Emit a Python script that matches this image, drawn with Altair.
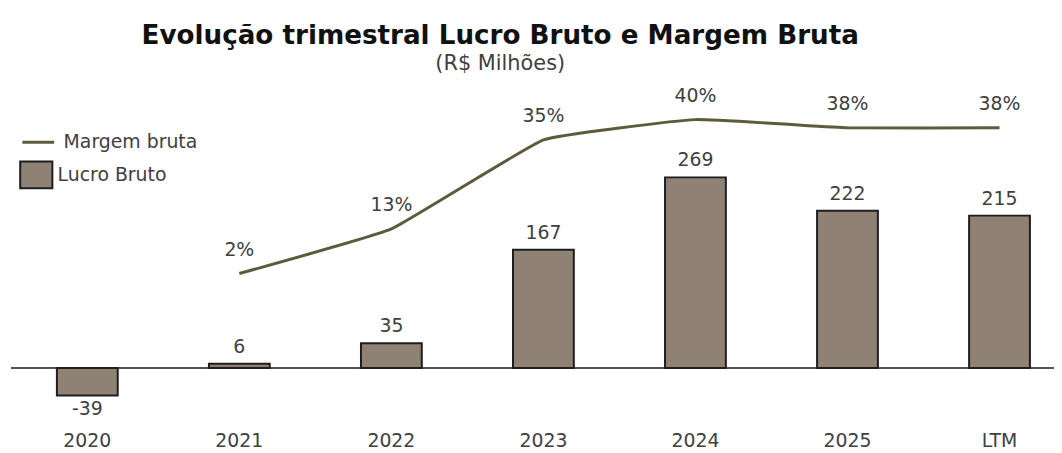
import altair as alt
import pandas as pd

categories = ["2020", "2021", "2022", "2023", "2024", "2025", "LTM"]
lucro_bruto = [-39, 6, 35, 167, 269, 222, 215]
margem_cats = ["2021", "2022", "2023", "2024", "2025", "LTM"]
margem_bruta = [2, 13, 35, 40, 38, 38]

bars_df = pd.DataFrame({"cat": categories, "valor": lucro_bruto, "serie": "Lucro Bruto"})
bars_df["label"] = bars_df["valor"].astype(str)
bars_df["pos"] = bars_df["valor"] >= 0
line_df = pd.DataFrame({"cat": margem_cats, "margem": margem_bruta, "serie": "Margem bruta"})
line_df["label"] = line_df["margem"].astype(str) + "%"

W, H = 1054, 345
FONT = "DejaVu Sans"
FS = 19
TXT = "#404040"
BAR_FILL = "#8f8174"
LINE_COL = "#5e5b3d"

x_scale = alt.Scale(domain=categories, paddingInner=0.6, paddingOuter=0.24, align=0.67)
x_axis = alt.Axis(title=None, labelAngle=0, domain=False, ticks=False, labelPadding=5,
                  labelFont=FONT, labelFontSize=FS, labelColor=TXT, grid=False)
x_enc = alt.X("cat:N", sort=categories, scale=x_scale, axis=x_axis)
y_scale = alt.Scale(domain=[-82.6, 400.6], nice=False, zero=False)
m_scale = alt.Scale(domain=[-35.78, 48.77], nice=False, zero=False)

base_b = alt.Chart(bars_df)
bars = base_b.mark_bar(stroke="#1e1e1e", strokeWidth=2).encode(
    x=x_enc,
    y=alt.Y("valor:Q", scale=y_scale, axis=None),
    fill=alt.Fill("serie:N", scale=alt.Scale(domain=["Lucro Bruto"], range=[BAR_FILL]),
                  legend=alt.Legend(title=None, orient="none", legendX=14, legendY=77,
                                    symbolType="M-1.2,-1H1.2V1H-1.2Z", symbolSize=729,
                                    symbolStrokeColor="#1e1e1e", symbolStrokeWidth=2,
                                    labelFont=FONT, labelFontSize=FS, labelColor=TXT,
                                    labelOffset=7)),
)
zero_rule = alt.Chart(pd.DataFrame({"z": [0]})).mark_rule(color="#1a1a1a", strokeWidth=1.5).encode(
    y=alt.Y("z:Q", scale=y_scale, axis=None), x=alt.value(3), x2=alt.value(W))
bar_pos = base_b.transform_filter("datum.pos").mark_text(
    dy=-17, font=FONT, fontSize=FS, color=TXT).encode(
    x=x_enc, y=alt.Y("valor:Q", scale=y_scale, axis=None), text="label:N")
bar_neg = base_b.transform_filter("!datum.pos").mark_text(
    dy=14, font=FONT, fontSize=FS, color=TXT).encode(
    x=x_enc, y=alt.Y("valor:Q", scale=y_scale, axis=None), text="label:N")

base_l = alt.Chart(line_df)
line = base_l.mark_line(strokeWidth=3, interpolate="cardinal", tension=0.7).encode(
    x=x_enc,
    y=alt.Y("margem:Q", scale=m_scale, axis=None),
    stroke=alt.Stroke("serie:N", scale=alt.Scale(domain=["Margem bruta"], range=[LINE_COL]),
                      legend=alt.Legend(title=None, orient="none", legendX=13, legendY=41,
                                        symbolType="stroke", symbolSize=1024, symbolStrokeWidth=3,
                                        labelFont=FONT, labelFontSize=FS, labelColor=TXT,
                                        labelOffset=8)),
)
line_txt = base_l.mark_text(dy=-24, font=FONT, fontSize=FS, color=TXT).encode(
    x=x_enc, y=alt.Y("margem:Q", scale=m_scale, axis=None), text="label:N")

left = alt.layer(zero_rule, bars, bar_pos, bar_neg)
right = alt.layer(line, line_txt)

chart = alt.layer(left, right).resolve_scale(
    y="independent", fill="independent", stroke="independent"
).properties(
    width=W, height=H,
    padding={"left": 0, "top": 75, "right": 0, "bottom": 25},
    autosize=alt.AutoSizeParams(type="none"),
    title=alt.Title("Evolução trimestral Lucro Bruto e Margem Bruta",
                    subtitle="(R$ Milhões)",
                    font="DejaVu Sans", fontSize=26.4, fontWeight="bold", color="#111111",
                    subtitleFont=FONT, subtitleFontSize=21, subtitleColor=TXT,
                    anchor="middle", dx=-31, offset=10, subtitlePadding=4),
).configure_view(stroke=None)

chart.save("out.html", embed_options={"renderer": "svg", "actions": False})
